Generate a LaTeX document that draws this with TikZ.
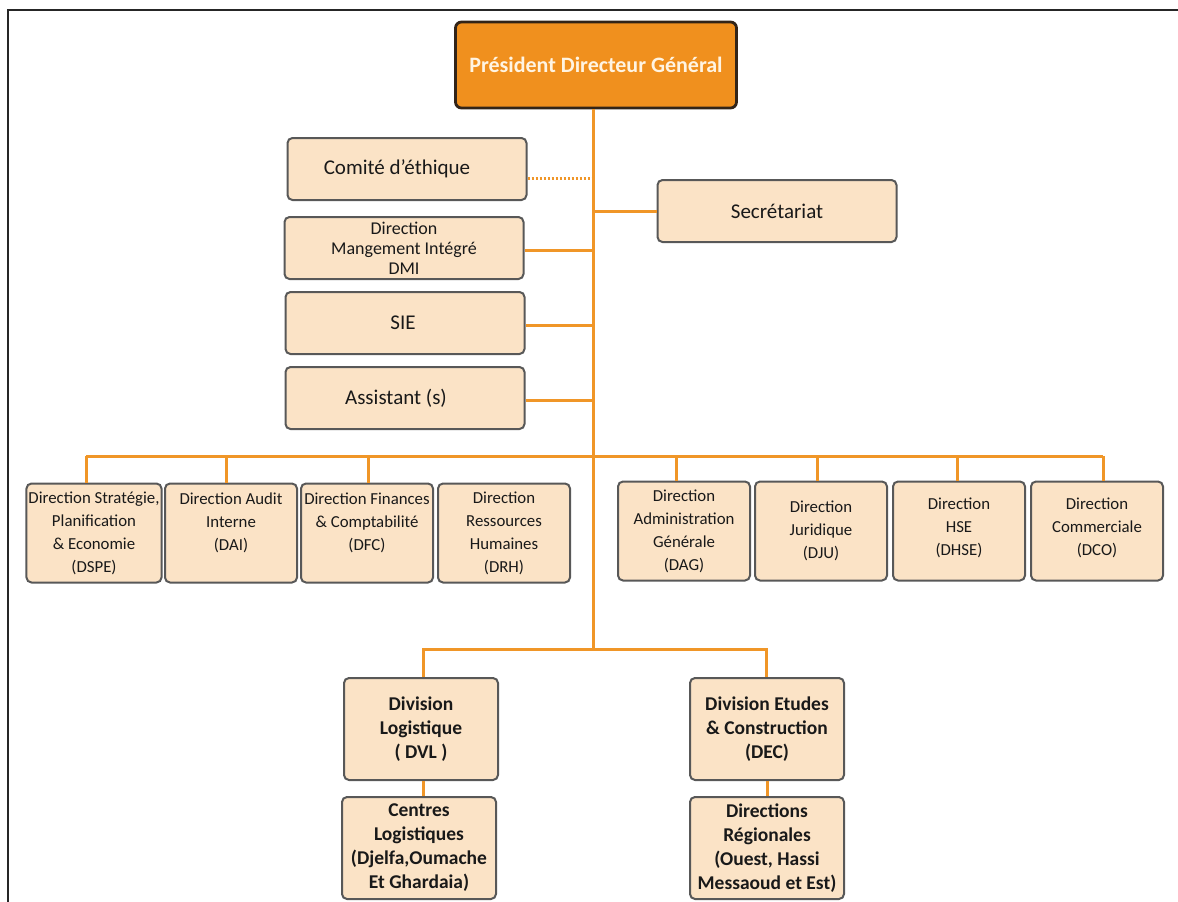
\documentclass[tikz,border=0pt]{standalone}
\usepackage{fontspec}
\setmainfont{Carlito}
\usepackage{tikz}
\usepackage{xcolor}
\definecolor{pdgorange}{RGB}{240,144,30}
\definecolor{pdgline}{RGB}{50,36,24}
\definecolor{pdgtext}{RGB}{255,244,226}
\definecolor{boxfill}{RGB}{251,227,198}
\definecolor{boxline}{RGB}{88,88,88}
\definecolor{linkorange}{RGB}{240,150,40}

\begin{document}
\begin{tikzpicture}[x=1pt,y=-1pt,
  unit/.style={draw=boxline,fill=boxfill,line width=2pt,rounded corners=5pt,align=center,inner sep=2pt,text=black!90},
  pdg/.style={draw=pdgline,fill=pdgorange,line width=2.8pt,rounded corners=6pt,minimum width=281pt,minimum height=86pt,text=pdgtext,font=\bfseries\fontsize{22}{25}\selectfont},
  bigbox/.style={unit,minimum width=239pt,minimum height=62pt,font=\fontsize{21}{24}\selectfont},
  dirbox/.style={unit,minimum width=132pt,minimum height=99pt,font=\fontsize{16.8}{23}\selectfont},
  divbox/.style={unit,minimum width=154pt,minimum height=102pt,font=\bfseries\fontsize{19.5}{24}\selectfont},
  link/.style={draw=linkorange,line width=3pt}]
\useasboundingbox (0,0) rectangle (1178,902);
% frame
\draw[black!85,line width=1.4pt] (8,902) -- (8,10) -- (1178,10);

% top
\node[pdg] (pdg) at (596,65) {Président Directeur Général};
\node[bigbox] (comite) at (407,169) {Comité d’éthique\hspace*{20pt}};
\node[bigbox] (secr) at (777,211) {Secrétariat};
\node[bigbox,font=\fontsize{18}{20}\selectfont] (dmi) at (404,248) {Direction\\Mangement Intégré\\DMI};
\node[bigbox] (sie) at (405,323) {SIE\hspace*{4pt}};
\node[bigbox] (asst) at (405,398) {Assistant (s)\hspace*{18pt}};

% directions
\node[dirbox] (dspe) at (94,533) {Direction Stratégie,\\Planification\\\& Economie\\(DSPE)};
\node[dirbox] (dai) at (231,533) {Direction Audit\\Interne\\(DAI)\\~};
\node[dirbox] (dfc) at (367,533) {Direction Finances\\\& Comptabilité\\(DFC)\\~};
\node[dirbox] (drh) at (504,533) {Direction\\Ressources\\Humaines\\(DRH)};
\node[dirbox] (dag) at (684,531) {Direction\\Administration\\Générale\\(DAG)};
\node[dirbox] (dju) at (821,531) {Direction\\Juridique\\(DJU)};
\node[dirbox] (dhse) at (959,531) {Direction\\HSE\\(DHSE)\\[-15pt]};
\node[dirbox] (dco) at (1097,531) {Direction\\Commerciale\\(DCO)\\[-15pt]};

% divisions
\node[divbox] (dvl) at (421,729) {Division\\Logistique\\( DVL )};
\node[divbox] (dec) at (767,729) {Division Etudes\\\& Construction\\(DEC)};
\node[divbox] (centres) at (419,848) {Centres\\Logistiques\\(Djelfa,Oumache\\Et Ghardaia)};
\node[divbox] (dirreg) at (767,848) {Directions\\Régionales\\(Ouest, Hassi\\Messaoud et Est)};

% trunk and branches
\coordinate (trunk) at (593,650);
\coordinate (busl) at (86,456);
\coordinate (busr) at (1103,456);
\draw[link] ([xshift=-3pt]pdg.south) -- (trunk);
\draw[link,dash pattern=on 2pt off 2pt] ([yshift=-9pt]comite.east) -- ([yshift=-9pt]comite.east -| trunk);
\draw[link] (secr.west) -- (secr.west -| trunk);
\draw[link] ([yshift=-2pt]dmi.east) -- ([yshift=-2pt]dmi.east -| trunk);
\draw[link] ([yshift=-2pt]sie.east) -- ([yshift=-2pt]sie.east -| trunk);
\draw[link] ([yshift=-2pt]asst.east) -- ([yshift=-2pt]asst.east -| trunk);
\draw[link] (busl) -- (busr);
\foreach \n/\dx in {dspe/-8,dai/-5,dfc/1,dag/-8,dju/-4,dhse/-2,dco/6}{
  \coordinate (t) at ([xshift=\dx pt]\n.north);
  \draw[link] (t) -- (t |- busl);
}
\draw[link] ([xshift=2pt]dvl.north) -- ++(0,-28) -| ([xshift=-1pt]dec.north);
\draw[link] ([xshift=2pt]dvl.south) -- ([xshift=2pt]dvl.south |- centres.north);
\draw[link] (dec.south) -- (dirreg.north);
\end{tikzpicture}
\end{document}
